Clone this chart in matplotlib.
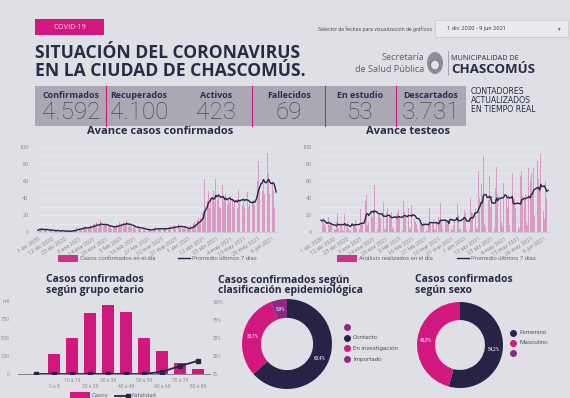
import numpy as np
import pandas as pd
import matplotlib
matplotlib.use('Agg')
import matplotlib.pyplot as plt
from matplotlib.patches import Rectangle, Ellipse
from matplotlib.lines import Line2D

plt.rcParams['font.family'] = ['Roboto', 'DejaVu Sans']

# --- datos del tablero ---
kpi_nombres = ['Confirmados', 'Recuperados', 'Activos', 'Fallecidos', 'En estudio', 'Descartados']
kpi_valores = ['4.592', '4.100', '423', '69', '53', '3.731']

fechas = pd.date_range('2020-12-01', '2021-06-09', freq='D')

# casos confirmados por dia (una fila por semana, desde el martes 1 dic)
casos_dia = [
    2, 4, 3, 5, 1, 2, 3,
    3, 2, 1, 4, 2, 0, 1,
    2, 1, 3, 0, 1, 2, 1,
    1, 0, 2, 0, 1, 2, 1,
    2, 3, 1, 6, 4, 5, 3,
    4, 6, 5, 7, 3, 6, 5,
    8, 6, 10, 9, 7, 12, 5,
    9, 14, 8, 6, 10, 7, 8,
    6, 5, 8, 4, 7, 6, 5,
    10, 8, 12, 7, 9, 11, 8,
    9, 14, 6, 8, 7, 5, 6,
    6, 4, 5, 7, 3, 4, 5,
    3, 2, 1, 4, 2, 3, 2,
    4, 3, 5, 6, 2, 4, 3,
    3, 5, 4, 2, 6, 4, 5,
    5, 7, 4, 6, 8, 5, 6,
    9, 7, 6, 5, 4, 6, 3,
    4, 3, 5, 8, 6, 10, 12,
    9, 14, 17, 12, 16, 22, 25,
    62, 30, 36, 48, 28, 40, 38,
    50, 35, 62, 38, 42, 30, 28,
    55, 36, 40, 45, 32, 38, 34,
    42, 38, 30, 35, 40, 28, 50,
    34, 45, 32, 40, 30, 36, 47,
    30, 33, 28, 36, 38, 32, 68,
    60, 83, 52, 64, 48, 58, 45,
    56, 93, 70, 45, 32, 60, 48,
    30, 45,
]

# analisis realizados por dia
testeos_dia = [
    14, 12, 16, 10, 6, 3, 18,
    8, 10, 9, 7, 3, 2, 12,
    22, 5, 8, 10, 2, 1, 21,
    6, 12, 4, 1, 2, 20, 10,
    9, 14, 5, 1, 3, 27, 12,
    10, 15, 36, 43, 8, 12, 28,
    25, 18, 27, 55, 5, 3, 20,
    22, 16, 30, 35, 4, 2, 22,
    28, 18, 20, 24, 6, 3, 27,
    20, 22, 26, 19, 5, 2, 37,
    24, 20, 18, 28, 6, 3, 32,
    36, 15, 12, 10, 3, 2, 14,
    10, 8, 12, 15, 2, 1, 11,
    28, 9, 10, 14, 3, 2, 12,
    18, 14, 34, 12, 4, 3, 14,
    12, 10, 14, 46, 3, 2, 8,
    14, 12, 33, 20, 4, 3, 16,
    18, 26, 22, 2, 3, 2, 40,
    24, 22, 38, 28, 5, 4, 72,
    40, 56, 35, 90, 10, 6, 48,
    38, 66, 30, 42, 8, 5, 52,
    76, 45, 50, 40, 12, 6, 58,
    95, 40, 30, 44, 8, 6, 70,
    36, 40, 28, 50, 6, 4, 66,
    72, 42, 38, 45, 12, 8, 75,
    60, 70, 45, 75, 20, 12, 83,
    62, 48, 92, 55, 25, 15, 60,
    40, 55,
]

etiquetas_fecha = ['1 dic 2020', '12 dic 2020', '23 dic 2020', '3 ene 2021', '14 ene 2021',
                   '25 ene 2021', '5 feb 2021', '16 feb 2021', '27 feb 2021', '10 mar 2021',
                   '21 mar 2021', '1 abr 2021', '12 abr 2021', '23 abr 2021', '4 may 2021',
                   '15 may 2021', '26 may 2021', '6 jun 2021']

grupos_edad = ['', '0 a 9', '10 a 19', '20 a 29', '30 a 39', '40 a 49',
               '50 a 59', '60 a 69', '70 a 79', '80 a 89']
casos_edad = [0, 280, 490, 830, 940, 850, 500, 320, 145, 70]
fatalidad_edad = [0, 0, 0, 0, 0, 0, 0, 3, 11, 18]   # % (eje secundario)

epi_clases = ['', 'Contacto', 'En investigación', 'Importado']
epi_pct = [0, 63.4, 30.7, 5.9]
sexo_clases = ['Femenino', 'Masculino', '']
sexo_pct = [54.2, 45.8, 0]

pct_ejes = ['100%', '75%', '50%', '25%', '0%']

# --- estilo ---
BG = '#dfe0e5'
NAVY = '#262347'
PINK = '#d2187e'
PURPLE = '#8a2a85'
TITLE = '#2b2a45'
GRAY = '#8b8b95'
BAR = '#d88abb'

W, H = 570, 398


def fx(x):
    return x / W


def fy(y):
    return 1 - y / H


def rect(x0, y0, x1, y1):
    return [x0 / W, 1 - y1 / H, (x1 - x0) / W, (y1 - y0) / H]


fig = plt.figure(figsize=(W / 100, H / 100), dpi=100)
fig.patch.set_facecolor(BG)

# --- encabezado ---
fig.add_artist(Rectangle((fx(35), fy(35)), 69 / W, 16 / H, transform=fig.transFigure,
                         color=PINK, lw=0))
fig.text(fx(69.5), fy(27), 'COVID-19', color='#f6c7e1', fontsize=5.5,
         ha='center', va='center')
fig.text(fx(35), fy(58), 'SITUACIÓN DEL CORONAVIRUS', fontsize=12.6, weight='bold',
         color=TITLE, va='baseline', family='Open Sans')
fig.text(fx(35), fy(76.5), 'EN LA CIUDAD DE CHASCOMÚS.', fontsize=12.6, weight='bold',
         color=TITLE, va='baseline', family='Open Sans')

fig.text(fx(432), fy(29), 'Selector de fechas para visualización de gráficos',
         ha='right', va='center', fontsize=3.8, color='#55555f')
fig.add_artist(Rectangle((fx(435), fy(37)), 133 / W, 17 / H, transform=fig.transFigure,
                         facecolor='#ebebef', edgecolor='#c6c6cd', lw=0.5))
fig.text(fx(447), fy(28.5), '1 dic 2020 - 9 jun 2021', va='center', fontsize=4.2,
         color='#44444e')
fig.text(fx(559), fy(28.5), '▾', va='center', ha='center', fontsize=4,
         color='#66666f', family='DejaVu Sans')

fig.text(fx(424), fy(58), 'Secretaría', ha='right', va='center', fontsize=6.6,
         color='#5e5e6e', family='Open Sans')
fig.text(fx(424), fy(69), 'de Salud Pública', ha='right', va='center', fontsize=6.6,
         color='#5e5e6e', family='Open Sans')
fig.add_artist(Ellipse((fx(435), fy(63)), 16 / W, 22 / H, transform=fig.transFigure,
                       facecolor='#8d8d98', edgecolor='none'))
fig.add_artist(Ellipse((fx(435), fy(65)), 9 / W, 10 / H, transform=fig.transFigure,
                       facecolor=BG, edgecolor='#6d6d78', lw=0.6))
fig.add_artist(Line2D([fx(448), fx(448)], [fy(51), fy(75)], transform=fig.transFigure,
                      color='#8d8d98', lw=0.5))
fig.text(fx(451), fy(58), 'MUNICIPALIDAD DE', va='center', fontsize=5.2,
         color=TITLE, family='Open Sans')
fig.text(fx(451), fy(69.5), 'CHASCOMÚS', va='center', fontsize=9.5, weight='bold',
         color=TITLE, family='Open Sans')

# --- contadores ---
fig.add_artist(Rectangle((fx(35), fy(126)), (466 - 35) / W, 40 / H,
                         transform=fig.transFigure, color='#aaa9b3', lw=0))
for xs in [106, 252, 325, 396]:
    fig.add_artist(Line2D([fx(xs), fx(xs)], [fy(86), fy(126)], transform=fig.transFigure,
                          color=PINK, lw=0.8))
kpi_x = [71, 139, 216, 289, 360, 431]
for xc, nombre, valor in zip(kpi_x, kpi_nombres, kpi_valores):
    fig.text(fx(xc), fy(96), nombre, ha='center', va='center', fontsize=6.4,
             weight='bold', color='#2d2959', family='Open Sans')
    fig.text(fx(xc), fy(112.5), valor, ha='center', va='center', fontsize=17.5,
             weight='light', color='#4a4957')
for i, linea in enumerate(['CONTADORES', 'ACTUALIZADOS', 'EN TIEMPO REAL']):
    fig.text(fx(471), fy(91 + 9.5 * i), linea, va='center', fontsize=5.6,
             color=TITLE, family=['Liberation Sans Narrow', 'DejaVu Sans'])


# --- graficos diarios ---
def grafico_diario(x0, x1, valores, titulo, xt, etiqueta_barra, leg_x):
    n = len(valores)
    ax = fig.add_axes(rect(x0, 147, x1, 232))
    ax.set_facecolor('none')
    dias = np.arange(n)
    ax.bar(dias, valores, width=0.7, color=BAR, alpha=0.8, lw=0)
    media = pd.Series(valores).rolling(7, min_periods=1).mean()
    ax.plot(dias, media, color=NAVY, lw=1.0)
    ax.set_xlim(-1, n)
    ax.set_ylim(0, 100)
    ax.set_yticks(range(0, 101, 20))
    ax.set_yticks(range(10, 100, 20), minor=True)
    ax.grid(axis='y', which='both', color='#ececf0', lw=0.5)
    ax.set_axisbelow(True)
    ax.set_xticks(np.arange(0, n, 11))
    ax.set_xticklabels(etiquetas_fecha, rotation=32, ha='right', rotation_mode='anchor',
                       fontsize=4.0, color=GRAY)
    for lab in ax.get_yticklabels():
        lab.set_fontsize(4.0)
        lab.set_color(GRAY)
    ax.tick_params(which='both', length=0, pad=3)
    ax.tick_params(axis='y', pad=6)
    for s in ['top', 'right', 'left']:
        ax.spines[s].set_visible(False)
    ax.spines['bottom'].set_color('#c5c5cc')
    ax.spines['bottom'].set_linewidth(0.5)
    fig.text(fx(xt), fy(132), titulo, ha='center', va='center', fontsize=8,
             weight='bold', color=TITLE, family='Open Sans')
    # leyenda
    fig.add_artist(Rectangle((fx(leg_x), fy(261.5)), 20 / W, 7 / H,
                             transform=fig.transFigure, color='#c9348a', lw=0))
    fig.text(fx(leg_x + 22), fy(258), etiqueta_barra, va='center', fontsize=4.3,
             color='#6a6a74')
    lx = leg_x + 120
    fig.add_artist(Line2D([fx(lx), fx(lx + 12)], [fy(258), fy(258)],
                          transform=fig.transFigure, color=NAVY, lw=1.0))
    fig.text(fx(lx + 14), fy(258), 'Promedio últimos 7 días', va='center', fontsize=4.3,
             color='#6a6a74')


grafico_diario(36.7, 277.3, casos_dia, 'Avance casos confirmados', 160,
               'Casos confirmados en el día', 58)
grafico_diario(319.8, 549.2, testeos_dia, 'Avance testeos', 408,
               'Análisis realizados en el día', 337)

# --- grupo etario ---
fig.text(fx(95), fy(280), 'Casos confirmados', ha='center', va='center', fontsize=7.5,
         weight='bold', color=TITLE, family='Open Sans')
fig.text(fx(95), fy(290), 'según grupo etario', ha='center', va='center', fontsize=7.5,
         weight='bold', color=TITLE, family='Open Sans')

ax = fig.add_axes(rect(18, 301, 210, 374))
ax.set_facecolor('none')
pos = np.arange(len(grupos_edad))
ax.bar(pos, casos_edad, width=0.67, color=PINK, lw=0)
ax.set_xlim(-1, 9.67)
ax.set_ylim(0, 1000)
ax.set_yticks([0, 250, 500, 750, 1000])
ax.set_yticklabels(['0', '250', '500', '750', 'mil'], fontsize=3.8, color=GRAY)
ax.set_xticks(pos)
ax.set_xticklabels([g if i % 2 == 0 else '\n' + g for i, g in enumerate(grupos_edad)],
                   fontsize=3.6, color=GRAY, linespacing=1.3)
ax.tick_params(length=0, pad=3)
ax.tick_params(axis='y', pad=6)
for s in ['top', 'right', 'left']:
    ax.spines[s].set_visible(False)
ax.spines['bottom'].set_color('#74747e')
ax.spines['bottom'].set_linewidth(0.6)
ax2 = ax.twinx()
ax2.set_ylim(0, 100)
ax2.plot(pos, fatalidad_edad, color=NAVY, lw=1.3, marker='s', ms=2.2)
ax2.axis('off')

fig.add_artist(Rectangle((fx(70), fy(399)), 20 / W, 7 / H, transform=fig.transFigure,
                         color=PINK, lw=0))
fig.text(fx(92), fy(395.5), 'Casos', va='center', fontsize=4.3, color='#6a6a74')
fig.add_artist(Line2D([fx(115), fx(128)], [fy(395.5), fy(395.5)], transform=fig.transFigure,
                      color=NAVY, lw=1.3, marker='s', ms=2.2, markevery=[1]))
fig.text(fx(131), fy(395.5), 'Fatalidad', va='center', fontsize=4.3, color='#6a6a74')

# --- donas ---
for i, t in enumerate(pct_ejes):
    fig.text(fx(213), fy(302 + 18 * i), t, va='center', fontsize=3.3, color=GRAY)


def etiqueta_pct(p):
    return f'{p:.1f}%'.replace('.', ',') if p > 0 else ''


def dona(cx, cy, r, valores, colores):
    ax = fig.add_axes(rect(cx - r, cy - r, cx + r, cy + r))
    ax.pie(valores, colors=colores, startangle=90, counterclock=False,
           wedgeprops=dict(width=0.42, edgecolor='none'), autopct=etiqueta_pct,
           pctdistance=0.79, textprops=dict(color='white', fontsize=3.3))
    ax.set_xlim(-1, 1)
    ax.set_ylim(-1, 1)
    return ax


def leyenda_dona(x, y0, paso, clases, colores):
    for i, (c, col) in enumerate(zip(clases, colores)):
        yy = y0 + paso * i
        fig.add_artist(Line2D([fx(x)], [fy(yy)], transform=fig.transFigure, marker='o',
                              ls='', ms=4, color=col))
        fig.text(fx(x + 6), fy(yy), c, va='center', fontsize=4.5, color='#55555f')


fig.text(fx(218), fy(280), 'Casos confirmados según', va='center', fontsize=7.5,
         weight='bold', color=TITLE, family='Open Sans')
fig.text(fx(218), fy(290), 'clasificación epidemiológica', va='center', fontsize=7.5,
         weight='bold', color=TITLE, family='Open Sans')
epi_colores = [PURPLE, NAVY, PINK, PURPLE]
dona(287, 344, 45, epi_pct, epi_colores)
leyenda_dona(347, 327, 10.7, epi_clases, epi_colores)

fig.text(fx(415), fy(280), 'Casos confirmados', va='center', fontsize=7.5,
         weight='bold', color=TITLE, family='Open Sans')
fig.text(fx(415), fy(290), 'según sexo', va='center', fontsize=7.5,
         weight='bold', color=TITLE, family='Open Sans')
sexo_colores = [NAVY, PINK, PURPLE]
dona(460, 345, 43, sexo_pct, sexo_colores)
leyenda_dona(513, 333, 10, sexo_clases, sexo_colores)

fig.savefig('out.png', dpi=100, facecolor=BG)
